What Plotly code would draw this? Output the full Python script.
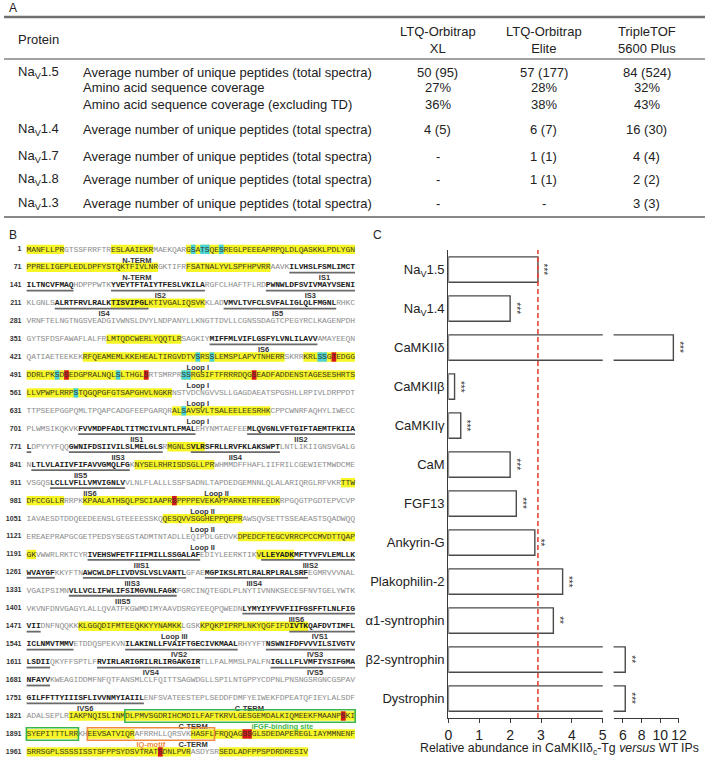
import plotly.graph_objects as go

W, H = 713, 761


def px(x):
    return x / W


def py(y):
    return 1 - y / H


# ---------------- Panel A data ----------------
instrument_names = ["LTQ-Orbitrap<br>XL", "LTQ-Orbitrap<br>Elite", "TripleTOF<br>5600 Plus"]
row_proteins = ["Na<sub>V</sub>1.5", "", "", "Na<sub>V</sub>1.4", "Na<sub>V</sub>1.7",
                "Na<sub>V</sub>1.8", "Na<sub>V</sub>1.3"]
row_metrics = ["Average number of unique peptides (total spectra)",
               "Amino acid sequence coverage",
               "Amino acid sequence coverage (excluding TD)",
               "Average number of unique peptides (total spectra)",
               "Average number of unique peptides (total spectra)",
               "Average number of unique peptides (total spectra)",
               "Average number of unique peptides (total spectra)"]
vals_xl = ["50 (95)", "27%", "36%", "4 (5)", "-", "-", "-"]
vals_elite = ["57 (177)", "28%", "38%", "6 (7)", "1 (1)", "1 (1)", "-"]
vals_triple = ["84 (524)", "32%", "43%", "16 (30)", "4 (4)", "2 (2)", "3 (3)"]

# ---------------- Panel B data ----------------
seq_rows = [
    "MANFLLPRGT SSFRRFTRES LAAIEKRMAE KQARGSATSQ ESREGLPEEE APRPQLDLQA SKKLPDLYGN",
    "PPRELIGEPL EDLDPFYSTQ KTFIVLNRGK TIFRFSATNA LYVLSPFHPV RRAAVKILVH SLFSMLIMCT",
    "ILTNCVFMAQ HDPPPWTKYV EYTFTAIYTF ESLVKILARG FCLHAFTFLR DPWNWLDFSV IVMAYVSENI",
    "KLGNLSALRT FRVLRALKTI SVIPGLKTIV GALIQSVKKL ADVMVLTVFC LSVFALIGLQ LFMGNLRHKC",
    "VRNFTELNGT NGSVEADGIV WNSLDVYLND PANYLLKNGT TDVLLCGNSS DAGTCPEGYR CLKAGENPDH",
    "GYTSFDSFAW AFLALFRLMT QDCWERLYQQ TLRSAGKIYM IFFMLVIFLG SFYLVNLILA VVAMAYEEQN",
    "QATIAETEEK EKRFQEAMEM LKKEHEALTI RGVDTVSRSS LEMSPLAPVT NHERRSKRRK RLSSGTEDGG",
    "DDRLPKSDSE DGPRALNQLS LTHGLSRTSM RPRSSRGSIF TFRRRDQGSE ADFADDENST AGESESHRTS",
    "LLVPWPLRRP STQGQPGFGT SAPGHVLNGK RNSTVDCNGV VSLLGAGDAE ATSPGSHLLR PIVLDRPPDT",
    "TTPSEEPGGP QMLTPQAPCA DGFEEPGARQ RALSAVSVLT SALEELEESR HKCPPCWNRF AQHYLIWECC",
    "PLWMSIKQKV KFVVMDPFAD LTITMCIVLN TLFMALEHYN MTAEFEEMLQ VGNLVFTGIF TAEMTFKIIA",
    "LDPYYYFQQG WNIFDSIIVI LSLMELGLSR MGNLSVLRSF RLLRVFKLAK SWPTLNTLIK IIGNSVGALG",
    "NLTLVLAIIV FIFAVVGMQL FGKNYSELRH RISDSGLLPR WHMMDFFHAF LIIFRILCGE WIETMWDCME",
    "VSGQSLCLLV FLLVMVIGNL VVLNLFLALL LSSFSADNLT APDEDGEMNN LQLALARIQR GLRFVKRTTW",
    "DFCCGLLRRR PKKPAALATH SQLPSCIAAP RSPPPPEVEK APPARKETRF EEDKRPGQGT PGDTEPVCVP",
    "IAVAESDTDD QEEDEENSLG TEEEESSKQQ ESQVVSGGHE PPQEPRAWSQ VSETTSSEAE ASTSQADWQQ",
    "EREAEPRAPG CGETPEDSYS EGSTADMTNT ADLLEQIPDL GEDVKDPEDC FTEGCVRRCP CCMVDTTQAP",
    "GKVWWRLRKT CYRIVEHSWF ETFIIFMILL SSGALAFEDI YLEERKTIKV LLEYADKMFT YVFVLEMLLK",
    "WVAYGFKKYF TNAWCWLDFL IVDVSLVSLV ANTLGFAEMG PIKSLRTLRA LRPLRALSRF EGMRVVVNAL",
    "VGAIPSIMNV LLVCLIFWLI FSIMGVNLFA GKFGRCINQT EGDLPLNYTI VNNKSECESF NVTGELYWTK",
    "VKVNFDNVGA GYLALLQVAT FKGWMDIMYA AVDSRGYEEQ PQWEDNLYMY IYFVVFIIFG SFFTLNLFIG",
    "VIIDNFNQQK KKLGGQDIFM TEEQKKYYNA MKKLGSKKPQ KPIPRPLNKY QGFIFDIVTK QAFDVTIMFL",
    "ICLNMVTMMV ETDDQSPEKV NILAKINLLF VAIFTGECIV KMAALRHYYF TNSWNIFDFV VVILSIVGTV",
    "LSDIIQKYFF SPTLFRVIRL ARIGRILRLI RGAKGIRTLL FALMMSLPAL FNIGLLLFLV MFIYSIFGMA",
    "NFAYVKWEAG IDDMFNFQTF ANSMLCLFQI TTSAGWDGLL SPILNTGPPY CDPNLPNSNG SRGNCGSPAV",
    "GILFFTTYII ISFLIVVNMY IAIILENFSV ATEESTEPLS EDDFDMFYEI WEKFDPEATQ FIEYLALSDF",
    "ADALSEPLRI AKPNQISLIN MDLPMVSGDR IHCMDILFAF TKRVLGESGE MDALKIQMEE KFMAANPSKI",
    "SYEPITTTLR RKHEEVSATV IQRAFRRHLL QRSVKHASFL FRQQAGSSGL SDEDAPEREG LIAYMMNENF",
    "SRRSGPLSSS SISSTSFPPS YDSVTRATSD NLPVRASDYS RSEDLADFPP SPDRDRESIV",
]
seq_lines = [r.replace(" ", "") for r in seq_rows]
RES_PER_LINE = 70

yellow_ranges = [(1, 8), (19, 27), (35, 98), (105, 122), (229, 248), (368, 383),
                 (433, 475), (480, 516), (524, 591), (662, 682), (801, 808),
                 (864, 880), (978, 988), (993, 1034), (1080, 1096), (1166, 1192),
                 (1240, 1247), (1482, 1503), (1508, 1530), (1830, 1901),
                 (1904, 1913), (1926, 1995), (2002, 2020)]
cyan_sites = [36, 38, 39, 42, 457, 460, 483, 484, 497, 510, 524, 525, 571, 664]
red_sites = [486, 499, 516, 539, 1012, 1888, 1937, 1938, 1989]
tm_segments = [(127, 150), (159, 178), (192, 210), (217, 236), (253, 276), (390, 412),
               (712, 736), (748, 771), (780, 799), (806, 824), (842, 862), (916, 931),
               (1204, 1227), (1241, 1266), (1273, 1294), (1299, 1320), (1340, 1362),
               (1447, 1473), (1527, 1550), (1562, 1585), (1592, 1615), (1626, 1647),
               (1663, 1685), (1751, 1775)]
region_labels = [(1, 23, "N-TERM"), (71, 23, "N-TERM"), (71, 63, "IS1"), (141, 28, "IS2"),
                 (141, 60, "IS3"), (211, 16, "IS4"), (211, 53, "IS5"), (351, 50, "IS6"),
                 (421, 36, "Loop I"), (491, 36, "Loop I"), (561, 36, "Loop I"),
                 (631, 36, "Loop I"), (701, 23, "IIS1"), (701, 58, "IIS2"),
                 (771, 19, "IIS3"), (771, 44, "IIS4"), (841, 11, "IIS5"),
                 (911, 13, "IIS6"), (911, 40, "Loop II"), (981, 37, "Loop II"),
                 (1051, 37, "Loop II"), (1121, 37, "Loop II"), (1191, 24, "IIIS1"),
                 (1191, 60, "IIIS2"), (1261, 22, "IIIS3"), (1261, 48, "IIIS4"),
                 (1331, 20, "IIIS5"), (1401, 57, "IIIS6"), (1471, 31, "Loop III"),
                 (1471, 62, "IVS1"), (1541, 32, "IVS2"), (1541, 61, "IVS3"),
                 (1611, 26, "IVS4"), (1611, 61, "IVS5"), (1751, 12, "IVS6"),
                 (1751, 47, "C-TERM"), (1821, 35, "C-TERM"), (1891, 35, "C-TERM"),
                 (1961, 35, "C-TERM")]
ifgf_site = (1842, 1901)
iq_motif = (1904, 1930)
ifgf_label = (1821, 54, "iFGF-binding site")
iq_label = (1891, 26, "IQ-motif")

# ---------------- Panel C data ----------------
proteins = ["Na<sub>V</sub>1.5", "Na<sub>V</sub>1.4", "CaMKIIδ", "CaMKIIβ", "CaMKIIγ", "CaM",
            "FGF13", "Ankyrin-G", "Plakophilin-2", "α1-syntrophin", "β2-syntrophin",
            "Dystrophin"]
abundance = [2.9, 2.0, 11.4, 0.2, 0.4, 2.0, 2.2, 2.8, 3.7, 3.4, 6.25, 6.25]
significance = ["***", "***", "***", "***", "***", "***", "***", "**", "***", "**", "**", "***"]
nav15_level = 2.9
axis_break = 5
low_ticks = [0, 1, 2, 3, 4, 5]
high_ticks = [6, 8, 10, 12]

# ---------------- style / layout constants ----------------
SANS = "Liberation Sans, Arial, sans-serif"
MONO = "Liberation Mono, DejaVu Sans Mono, monospace"
TXT = "#222222"

fig = go.Figure()
annotations = []
shapes = []

# ======== Panel A : table ========
annotations.append(dict(text="A", x=px(3), y=py(8), xref="paper", yref="paper",
                        xanchor="left", yanchor="middle", showarrow=False,
                        font=dict(family=SANS, size=12, color=TXT)))
shapes.append(dict(type="line", xref="paper", yref="paper", x0=0, x1=1,
                   y0=py(17), y1=py(17), line=dict(color="#6f6f6f", width=2.5)))
shapes.append(dict(type="line", xref="paper", yref="paper", x0=0, x1=1,
                   y0=py(59), y1=py(59), line=dict(color="#444444", width=1)))
shapes.append(dict(type="line", xref="paper", yref="paper", x0=0, x1=1,
                   y0=py(217), y1=py(217), line=dict(color="#888888", width=2)))
col_x = [441, 549, 654]
row_y = [73, 88, 104, 129, 156, 180, 203]
annotations.append(dict(text="Protein", x=px(12), y=py(40), xref="paper", yref="paper",
                        xanchor="left", yanchor="middle", showarrow=False,
                        font=dict(family=SANS, size=13, color=TXT)))
for cx, name in zip(col_x, instrument_names):
    annotations.append(dict(text=name, x=px(cx), y=py(40), xref="paper", yref="paper",
                            xanchor="center", yanchor="middle", showarrow=False,
                            font=dict(family=SANS, size=13, color=TXT)))
for i, ry in enumerate(row_y):
    if row_proteins[i]:
        annotations.append(dict(text=row_proteins[i], x=px(12), y=py(ry), xref="paper",
                                yref="paper", xanchor="left", yanchor="middle",
                                showarrow=False, font=dict(family=SANS, size=13, color=TXT)))
    annotations.append(dict(text=row_metrics[i], x=px(78), y=py(ry), xref="paper",
                            yref="paper", xanchor="left", yanchor="middle", showarrow=False,
                            font=dict(family=SANS, size=13, color=TXT)))
    for cx, vals in zip(col_x, (vals_xl, vals_elite, vals_triple)):
        annotations.append(dict(text=vals[i], x=px(cx), y=py(ry), xref="paper",
                                yref="paper", xanchor="center", yanchor="middle",
                                showarrow=False, font=dict(family=SANS, size=13, color=TXT)))

# ======== Panel B : sequence ========
annotations.append(dict(text="B", x=px(3), y=py(235), xref="paper", yref="paper",
                        xanchor="left", yanchor="middle", showarrow=False,
                        font=dict(family=SANS, size=12, color=TXT)))


def pos(res):
    return (res - 1) // RES_PER_LINE, (res - 1) % RES_PER_LINE


def split_range(a, b):
    out = []
    r = a
    while r <= b:
        line, c0 = pos(r)
        end = min(b, (line + 1) * RES_PER_LINE)
        out.append((line, c0, pos(end)[1]))
        r = end + 1
    return out


HL_TOP, HL_BOT = -0.27, 0.25
for a, b in yellow_ranges:
    for line, c0, c1 in split_range(a, b):
        shapes.append(dict(type="rect", xref="x3", yref="y3", x0=c0 - 0.5, x1=c1 + 0.5,
                           y0=line + HL_TOP, y1=line + HL_BOT, fillcolor="#f6f526",
                           line=dict(width=0), layer="below"))
for sites, colr in ((cyan_sites, "#45d3dc"), (red_sites, "#d4151c")):
    for s in sites:
        line, c = pos(s)
        shapes.append(dict(type="rect", xref="x3", yref="y3", x0=c - 0.5, x1=c + 0.5,
                           y0=line + HL_TOP, y1=line + HL_BOT, fillcolor=colr,
                           line=dict(width=0), layer="below"))
for a, b in tm_segments:
    for line, c0, c1 in split_range(a, b):
        shapes.append(dict(type="line", xref="x3", yref="y3", x0=c0 - 0.5, x1=c1 + 0.5,
                           y0=line + 0.29, y1=line + 0.29,
                           line=dict(color="#6a6a6a", width=1.8)))
for (a, b), colr in ((ifgf_site, "#3cb54a"), (iq_motif, "#f08a3c")):
    for line, c0, c1 in split_range(a, b):
        shapes.append(dict(type="rect", xref="x3", yref="y3", x0=c0 - 0.55, x1=c1 + 0.55,
                           y0=line - 0.36, y1=line + 0.34, line=dict(color=colr, width=1.6)))

in_yellow = set()
for a, b in yellow_ranges:
    in_yellow.update(range(a, b + 1))
in_yellow.update(cyan_sites)
in_yellow.update(red_sites)
in_tm = set()
for a, b in tm_segments:
    in_tm.update(range(a, b + 1))

groups = {"plain": ([], [], []), "hl": ([], [], []), "tm": ([], [], [])}
for li, s in enumerate(seq_lines):
    for c, aa in enumerate(s):
        r = li * RES_PER_LINE + c + 1
        key = "tm" if r in in_tm else ("hl" if r in in_yellow else "plain")
        gx, gy, gt = groups[key]
        gx.append(c)
        gy.append(li)
        gt.append("<b>%s</b>" % aa if key == "tm" else aa)
style = {"plain": "#8c8c8c", "hl": "#3d3a20", "tm": "#1c1c1c"}
for key, (gx, gy, gt) in groups.items():
    fig.add_trace(go.Scatter(x=gx, y=gy, text=gt, mode="text", xaxis="x3", yaxis="y3",
                             textposition="middle center", cliponaxis=False,
                             textfont=dict(family=MONO, size=8, color=style[key]),
                             hoverinfo="skip", showlegend=False))
# line numbers
line_idx = list(range(len(seq_lines)))
fig.add_trace(go.Scatter(x=[-1.6] * len(seq_lines), y=line_idx,
                         text=["<b>%d</b>" % (i * RES_PER_LINE + 1) for i in line_idx],
                         mode="text", xaxis="x3", yaxis="y3", textposition="middle left",
                         cliponaxis=False,
                         textfont=dict(family=SANS, size=7, color="#333333"),
                         hoverinfo="skip", showlegend=False))
# region labels
lab_x, lab_y, lab_t = [], [], []
for start, col, t in region_labels:
    lab_x.append(col)
    lab_y.append(pos(start)[0] + 0.62)
    lab_t.append("<b>%s</b>" % t)
fig.add_trace(go.Scatter(x=lab_x, y=lab_y, text=lab_t, mode="text", xaxis="x3", yaxis="y3",
                         textposition="middle center", cliponaxis=False,
                         textfont=dict(family=SANS, size=7.5, color="#333333"),
                         hoverinfo="skip", showlegend=False))
for (start, col, t), colr in ((ifgf_label, "#3cb54a"), (iq_label, "#f08a3c")):
    fig.add_trace(go.Scatter(x=[col], y=[pos(start)[0] + 0.62], text=["<b>%s</b>" % t],
                             mode="text", xaxis="x3", yaxis="y3",
                             textposition="middle center", cliponaxis=False,
                             textfont=dict(family=SANS, size=7.5, color=colr),
                             hoverinfo="skip", showlegend=False))

# ======== Panel C : bar chart ========
annotations.append(dict(text="C", x=px(373), y=py(235), xref="paper", yref="paper",
                        xanchor="left", yanchor="middle", showarrow=False,
                        font=dict(family=SANS, size=12, color=TXT)))
for ax in ("x", "x2"):
    fig.add_trace(go.Bar(orientation="h", x=abundance, y=proteins, base=0, xaxis=ax,
                         yaxis="y", width=0.65,
                         marker=dict(color="white", line=dict(color="#4a4a4a", width=1.4)),
                         hoverinfo="skip", showlegend=False))
for p, v, sig in zip(proteins, abundance, significance):
    annotations.append(dict(text=sig, x=v, y=p, xref="x" if v <= axis_break else "x2",
                            yref="y", xshift=6, textangle=90, showarrow=False,
                            xanchor="center", yanchor="middle",
                            font=dict(family=SANS, size=10, color="#333333")))
shapes.append(dict(type="line", xref="x", yref="paper", x0=nav15_level, x1=nav15_level,
                   y0=py(718), y1=py(250), layer="above",
                   line=dict(color="#e2463c", width=1.6, dash="5px,3px")))
annotations.append(dict(text="Relative abundance in CaMKIIδ<sub>c</sub>-Tg <i>versus</i> WT IPs",
                        x=px(421), y=py(749), xref="paper", yref="paper",
                        xanchor="left", yanchor="middle", showarrow=False,
                        font=dict(family=SANS, size=12.3, color=TXT)))

axis_common = dict(showgrid=False, zeroline=False, showline=True, linecolor="#3a3a3a",
                   linewidth=1.4, ticks="outside", ticklen=4, tickwidth=1.4,
                   tickcolor="#3a3a3a", tickfont=dict(family=SANS, size=14, color=TXT),
                   fixedrange=True)
fig.update_layout(
    width=W, height=H, margin=dict(l=0, r=0, t=0, b=0),
    paper_bgcolor="white", plot_bgcolor="rgba(0,0,0,0)", showlegend=False,
    barmode="overlay",
    xaxis=dict(domain=[px(452), px(609)], range=[0, axis_break], anchor="y",
               tickvals=low_ticks, **axis_common),
    xaxis2=dict(domain=[px(620), px(687)], range=[axis_break, 12.05], anchor="y",
                tickvals=high_ticks, **axis_common),
    yaxis=dict(domain=[py(718), py(250)], anchor="x", type="category",
               categoryorder="array", categoryarray=proteins,
               range=[len(proteins) - 0.5, -0.5], showgrid=False, zeroline=False,
               showline=True, linecolor="#3a3a3a", linewidth=1.4, ticks="",
               tickfont=dict(family=SANS, size=13, color=TXT), fixedrange=True),
    xaxis3=dict(domain=[0, px(360)], range=[-5.32, 70.13], anchor="y3", visible=False,
                fixedrange=True),
    yaxis3=dict(domain=[0, py(238)], range=[28.496, -0.6407], anchor="x3", visible=False,
                fixedrange=True),
    annotations=annotations, shapes=shapes,
)

fig.write_html(
    "out.html",
    config={"displayModeBar": False},
    post_script=("document.body.style.margin='0px';document.body.style.padding='0px';"
                 "document.documentElement.style.overflow='hidden';"
                 "document.body.style.overflow='hidden';"),
)
